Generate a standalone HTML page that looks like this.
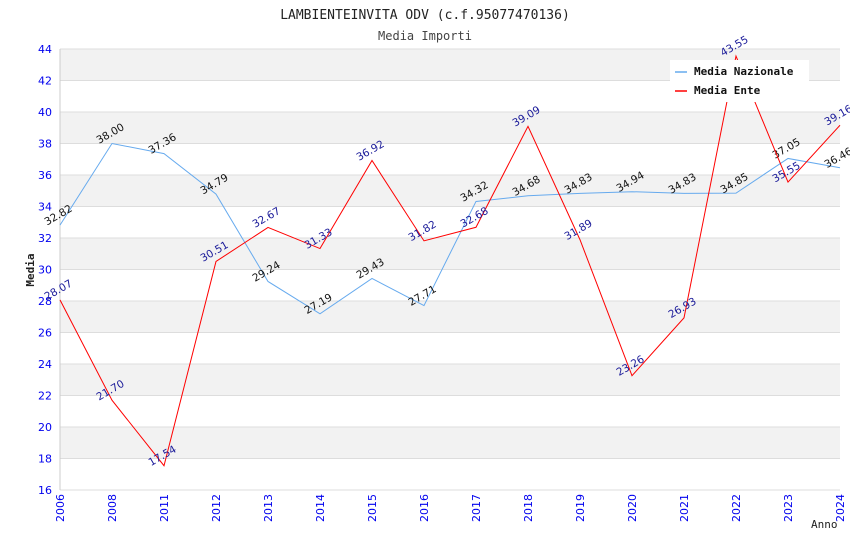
<!DOCTYPE html>
<html><head><meta charset="utf-8"><style>
body{margin:0;background:#fff;}
svg text{font-family:"DejaVu Sans","Liberation Sans",sans-serif;}
.mono{font-family:"DejaVu Sans Mono","Liberation Mono",monospace;}
</style></head><body>
<svg id="chart" width="850" height="550" xmlns="http://www.w3.org/2000/svg">
<text class="mono" x="425" y="19" text-anchor="middle" font-size="13" fill="#222">LAMBIENTEINVITA ODV (c.f.95077470136)</text>
<text class="mono" x="425" y="40" text-anchor="middle" font-size="12" fill="#444">Media Importi</text>
<g id="bands"></g><g id="grid"></g><g id="axes"></g><g id="series"></g>
<text class="mono" transform="translate(34,270) rotate(-90)" text-anchor="middle" font-size="11" font-weight="bold" fill="#222">Media</text>
<text class="mono" x="811" y="528" font-size="11" fill="#222">Anno</text>
<g>
<rect x="670" y="60" width="139" height="42" fill="#fff"/>
<line x1="675" y1="72" x2="687" y2="72" stroke="#66aaee" stroke-width="1.5"/>
<text class="mono" x="694" y="75" font-size="11" font-weight="bold" fill="#111">Media Nazionale</text>
<line x1="675" y1="91" x2="687" y2="91" stroke="#ff0000" stroke-width="1.5"/>
<text class="mono" x="694" y="94" font-size="11" font-weight="bold" fill="#111">Media Ente</text>
</g>
</svg>
<script>
const categories=["2006","2008","2011","2012","2013","2014","2015","2016","2017","2018","2019","2020","2021","2022","2023","2024"];
const nazionale=[32.82,38.00,37.36,34.79,29.24,27.19,29.43,27.71,34.32,34.68,34.83,34.94,34.83,34.85,37.05,36.46];
const ente=[28.07,21.70,17.54,30.51,32.67,31.33,36.92,31.82,32.68,39.09,31.89,23.26,26.93,43.55,35.55,39.16];
const yTicks=[16,18,20,22,24,26,28,30,32,34,36,38,40,42,44];
const L=60,R=840,T=49,B=490,yMin=16,yMax=44;
const NS="http://www.w3.org/2000/svg";
const xs=i=>L+i*(R-L)/(categories.length-1);
const ys=v=>B-(v-yMin)*(B-T)/(yMax-yMin);
function mk(tag,attrs,parent){const e=document.createElementNS(NS,tag);for(const k in attrs)e.setAttribute(k,attrs[k]);document.getElementById(parent).appendChild(e);return e;}
for(let i=0;i<yTicks.length-1;i++){
  if(i%2===1){const r=mk('rect',{x:L,y:ys(yTicks[i+1]),width:R-L,height:ys(yTicks[i])-ys(yTicks[i+1]),fill:'#f2f2f2'},'bands');
  
  }
}
yTicks.forEach(t=>{
  const l=mk('line',{x1:L,x2:R,y1:ys(t),y2:ys(t),stroke:'#dddddd'},'grid');
  
  
  const tx=mk('text',{x:L-8,y:ys(t)+4,'text-anchor':'end','font-size':11,fill:'#0000ee'},'axes');
  tx.textContent=t;
  
  
});
mk('line',{x1:L,x2:L,y1:T,y2:B,stroke:'#ccc'},'axes');
categories.forEach((c,i)=>{
  const tx=mk('text',{transform:`translate(${xs(i)+4},${B+4}) rotate(-90)`,'text-anchor':'end','font-size':11,fill:'#0000ee'},'axes');
  tx.textContent=c;
  
  
});
function series(vals,color,lab,name){
  const p=mk('polyline',{points:vals.map((v,i)=>xs(i)+','+ys(v)).join(' '),fill:'none',stroke:color,'stroke-width':1},'series');
  
  
  vals.forEach((v,i)=>{
    const t=mk('text',{transform:`translate(${xs(i)},${ys(v)-7}) rotate(-30)`,'text-anchor':'middle','font-size':10.5,fill:lab},'series');
    t.textContent=v.toFixed(2);
    
    
  });
}
series(nazionale,'#66aaee','#111','nazionale');
series(ente,'#ff0000','#1a1a99','ente');
</script>
</body></html>
